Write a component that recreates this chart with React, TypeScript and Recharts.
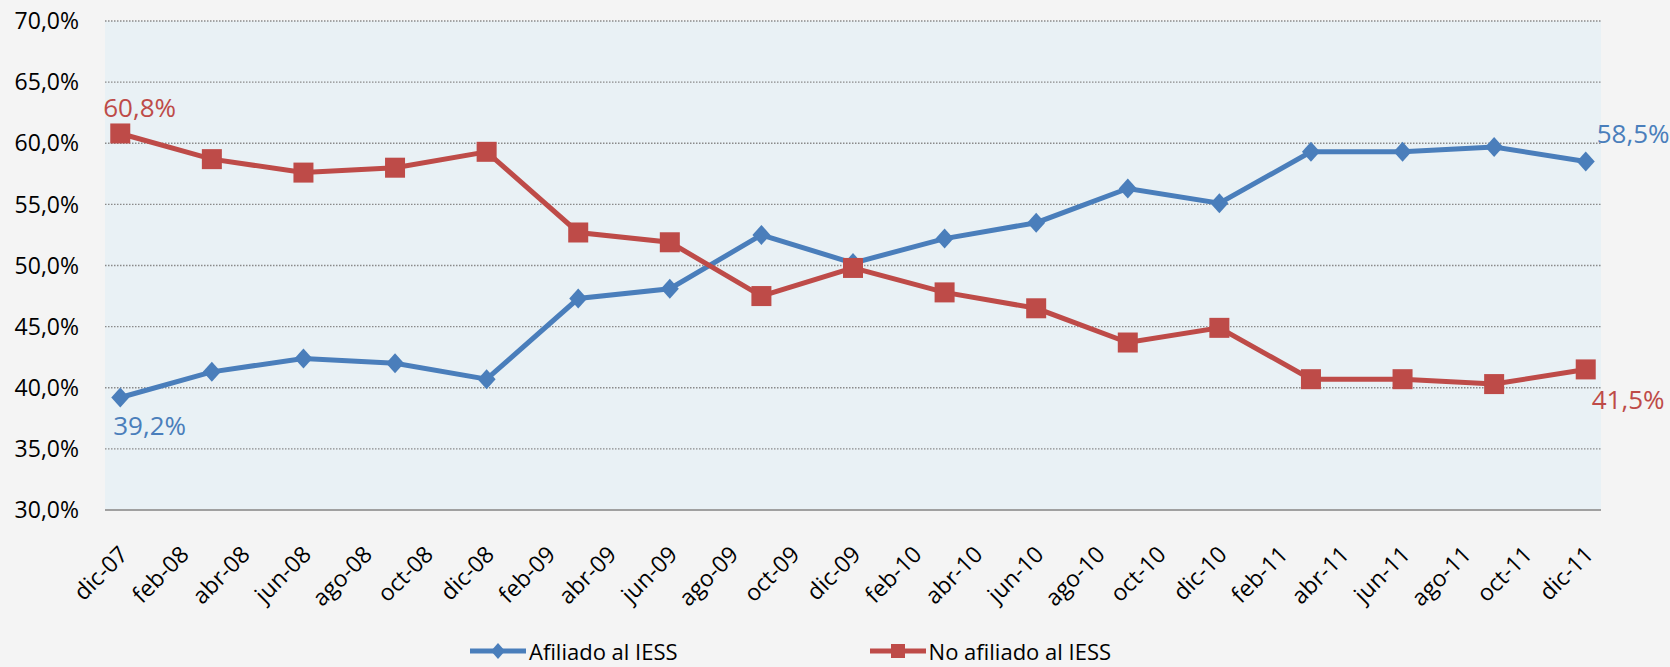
import { LineChart, Line, XAxis, YAxis, CartesianGrid, Legend, LabelList } from "recharts";

const periods = [
  "dic-07", "mar-08", "jun-08", "sep-08", "dic-08", "mar-09", "jun-09", "sep-09", "dic-09",
  "mar-10", "jun-10", "sep-10", "dic-10", "mar-11", "jun-11", "sep-11", "dic-11",
];
const afiliado = [39.2, 41.3, 42.4, 42.0, 40.7, 47.3, 48.1, 52.5, 50.2, 52.2, 53.5, 56.3, 55.1, 59.3, 59.3, 59.7, 58.5];
const noAfiliado = [60.8, 58.7, 57.6, 58.0, 59.3, 52.7, 51.9, 47.5, 49.8, 47.8, 46.5, 43.7, 44.9, 40.7, 40.7, 40.3, 41.5];

const tickLabels = [
  "dic-07", "feb-08", "abr-08", "jun-08", "ago-08", "oct-08", "dic-08", "feb-09", "abr-09",
  "jun-09", "ago-09", "oct-09", "dic-09", "feb-10", "abr-10", "jun-10", "ago-10", "oct-10",
  "dic-10", "feb-11", "abr-11", "jun-11", "ago-11", "oct-11", "dic-11",
];
const yTicks = [30, 35, 40, 45, 50, 55, 60, 65, 70];

const BLUE = "#4a7ebb";
const RED = "#be4b48";
const FONT = "'Open Sans', sans-serif";

const MONTHS = ["ene", "feb", "mar", "abr", "may", "jun", "jul", "ago", "sep", "oct", "nov", "dic"];
// months elapsed since dic-07
const monthIndex = (label: string) => {
  const [m, y] = label.split("-");
  return (Number(y) - 7) * 12 + MONTHS.indexOf(m) - 11;
};

const data = periods.map((p, i) => ({
  m: monthIndex(p),
  afiliado: afiliado[i],
  noAfiliado: noAfiliado[i],
}));
const xTicks = tickLabels.map(monthIndex);
const labelByMonth: Record<number, string> = {};
tickLabels.forEach((l) => (labelByMonth[monthIndex(l)] = l));

const pct = (v: number) => `${v.toFixed(1).replace(".", ",")}%`;

const XTick = (props: any) => {
  const { x, y, payload } = props;
  const px = x + 9;
  const py = y + 46;
  return (
    <text x={px} y={py} transform={`rotate(-45, ${px}, ${py})`} textAnchor="end" fontSize={23} fontFamily={FONT} fill="#000">
      {labelByMonth[payload.value]}
    </text>
  );
};

const Diamond = (props: any) => {
  const { cx, cy, index } = props;
  if (cx == null || cy == null) return <g key={index} />;
  return <path key={index} d={`M${cx},${cy - 10}L${cx + 9},${cy}L${cx},${cy + 10}L${cx - 9},${cy}Z`} fill={BLUE} />;
};

const Square = (props: any) => {
  const { cx, cy, index } = props;
  if (cx == null || cy == null) return <g key={index} />;
  return <rect key={index} x={cx - 10} y={cy - 10} width={20} height={20} fill={RED} />;
};

// only first and last points get a label
const endLabel = (color: string, first: [number, number], last: [number, number]) => (props: any) => {
  const { index, value } = props;
  const x = props.x ?? props.viewBox?.x;
  const y = props.y ?? props.viewBox?.y;
  if (index !== 0 && index !== periods.length - 1) return null;
  const [dx, dy] = index === 0 ? first : last;
  return (
    <text x={x + dx} y={y + dy} fontSize={26} fontFamily={FONT} fill={color} textAnchor="start">
      {pct(Number(value))}
    </text>
  );
};

const LegendContent = () => (
  <div style={{ display: "flex", alignItems: "center", fontFamily: FONT, fontSize: 22, lineHeight: "30px", color: "#000", paddingLeft: 470, height: 30 }}>
    <svg width={56} height={24}>
      <line x1={0} y1={12} x2={56} y2={12} stroke={BLUE} strokeWidth={5} />
      <path d="M28,4L35,12L28,20L21,12Z" fill={BLUE} />
    </svg>
    <span style={{ marginLeft: 3 }}>Afiliado al IESS</span>
    <svg width={56} height={24} style={{ marginLeft: 192 }}>
      <line x1={0} y1={12} x2={56} y2={12} stroke={RED} strokeWidth={5} />
      <rect x={21} y={5} width={14} height={14} fill={RED} />
    </svg>
    <span style={{ marginLeft: 3 }}>No afiliado al IESS</span>
  </div>
);

export default function App() {
  return (
    <div style={{ position: "fixed", left: 0, top: 0, width: 1670, height: 667, background: "#f4f4f4" }}>
      <LineChart width={1670} height={667} data={data} margin={{ top: 21, right: 69, left: 0, bottom: 57 }}>
        <CartesianGrid vertical={false} fill="#e9f1f5" stroke="#8a8a8a" strokeDasharray="1.5 1.5" strokeWidth={1.3} />
        <XAxis
          dataKey="m"
          type="number"
          domain={[-0.5, 48.5]}
          ticks={xTicks}
          interval={0}
          height={100}
          tick={<XTick />}
          tickLine={false}
          tickSize={0}
          tickMargin={0}
          axisLine={{ stroke: "#a0a0a0", strokeWidth: 2 }}
        />
        <YAxis
          domain={[30, 70]}
          ticks={yTicks}
          width={105}
          tickFormatter={pct}
          tickLine={false}
          tickSize={0}
          tickMargin={26}
          axisLine={false}
          tick={{ fontSize: 23, fontFamily: FONT, fill: "#000" }}
        />
        <Legend verticalAlign="middle" align="center" layout="horizontal" content={<LegendContent />} wrapperStyle={{ top: 636, left: 0, width: 1670, height: 30 }} />
        <Line type="linear" dataKey="afiliado" stroke={BLUE} strokeWidth={5} dot={Diamond} activeDot={false} isAnimationActive={false}>
          <LabelList dataKey="afiliado" content={endLabel(BLUE, [-7, 37], [11, -19])} />
        </Line>
        <Line type="linear" dataKey="noAfiliado" stroke={RED} strokeWidth={5} dot={Square} activeDot={false} isAnimationActive={false}>
          <LabelList dataKey="noAfiliado" content={endLabel(RED, [-17, -16], [6, 40])} />
        </Line>
      </LineChart>
    </div>
  );
}
